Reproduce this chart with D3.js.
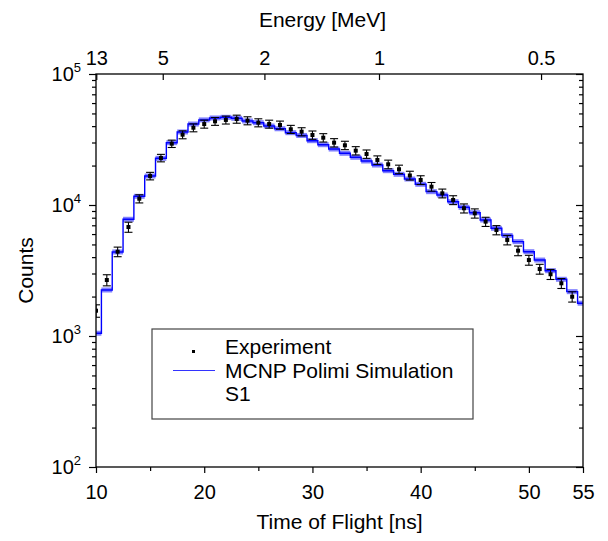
<!DOCTYPE html>
<html>
<head>
<meta charset="utf-8">
<script src="https://cdn.jsdelivr.net/npm/d3@7"></script>
<style>
    body { margin: 0; background: #fff; }
    svg text { font-family: "Liberation Sans", Arial, sans-serif; fill: #000; }
</style>
</head>
<body>
<div id="chart"></div>
<script>
// Time-of-flight bins (ns), simulation histogram
const tofBins = [10, 11, 12, 13, 14, 15, 16, 17, 18, 19, 20, 21, 22, 23, 24, 25, 26, 27, 28, 29,
    30, 31, 32, 33, 34, 35, 36, 37, 38, 39, 40, 41, 42, 43, 44, 45, 46, 47, 48, 49, 50, 51, 52, 53, 54, 55];
const simCounts = [1050, 2245, 4380, 7780, 11650, 16650, 22720, 29900, 36100, 41500,
    44600, 46150, 46700, 45900, 43800, 42500, 40100, 38200, 35650, 33950,
    30970, 28860, 26750, 24820, 23130, 21680, 20190, 18280, 17150, 15790,
    14390, 12640, 11920, 10600, 9600, 8730, 7680, 6640, 5850, 5250,
    4400, 3800, 3150, 2710, 2180, 1780];

// Experiment points
const expTof = [10, 11, 12, 13, 14, 15, 16, 17, 18, 19, 20, 21, 22, 23, 24, 25, 26, 27, 28, 29,
    30, 31, 32, 33, 34, 35, 36, 37, 38, 39, 40, 41, 42, 43, 44, 45, 46, 47, 48, 49, 50, 51, 52, 53, 54];
const expCounts = [1560, 2675, 4400, 6790, 11170, 16650, 22850, 29380, 34420, 38900,
    41500, 43550, 44600, 45300, 44040, 42500, 41500, 40800, 37840, 36290,
    34220, 32640, 29900, 28560, 25990, 24500, 22060, 20450, 18740, 16800,
    15520, 13800, 12280, 10920, 9440, 8640, 7460, 6440, 5410, 4480,
    3800, 3245, 2960, 2525, 1995];
const expErrors = [170, 260, 370, 600, 800, 1100, 1500, 1900, 2400, 2700,
    2900, 3000, 3100, 3200, 3100, 3000, 2900, 2900, 2700, 2600,
    2500, 2400, 2200, 2100, 1900, 1800, 1650, 1550, 1400, 1300,
    1200, 1050, 950, 850, 750, 700, 600, 520, 450, 380,
    330, 280, 260, 220, 180];

// Axis ticks
const tofTicks = [10, 20, 30, 40, 50, 55];
const tofMinorTicks = [15, 25, 35, 45];
const energyTicks = [13, 5, 2, 1, 0.5];
const countDecades = [1e2, 1e3, 1e4, 1e5];
const legendLabels = ["Experiment", "MCNP Polimi Simulation", "S1"];

const SIM_REL_ERR = 0.045;   // half-height of the simulation band
const TOF_1MEV = 36.15;      // flight time of a 1 MeV neutron over the path (ns)

class TofChart {
    constructor(parentElement) {
        this.parentElement = parentElement;
        this.initVis();
    }

    initVis() {
        const vis = this;

        vis.MARGIN = { LEFT: 96, RIGHT: 25, TOP: 74, BOTTOM: 74 };
        vis.WIDTH = 608 - vis.MARGIN.LEFT - vis.MARGIN.RIGHT;
        vis.HEIGHT = 541 - vis.MARGIN.TOP - vis.MARGIN.BOTTOM;
        vis.TICK_FONT = 20;
        vis.TITLE_FONT = 21;

        vis.svgRoot = d3.select(vis.parentElement).append("svg")
            .attr("width", 608)
            .attr("height", 541);

        vis.svg = vis.svgRoot.append("g")
            .attr("transform", `translate(${vis.MARGIN.LEFT}, ${vis.MARGIN.TOP})`);

        vis.svg.append("clipPath")
            .attr("id", "plot-clip")
            .append("rect")
            .attr("width", vis.WIDTH)
            .attr("height", vis.HEIGHT);

        vis.xScale = d3.scaleLinear().domain([10, 55]).range([0, vis.WIDTH]);
        vis.yScale = d3.scaleLog().domain([1e2, 1e5]).range([vis.HEIGHT, 0]);

        vis.addSimulation();
        vis.addExperiment();
        vis.addAxes();
        vis.addLegend();
    }

    addSimulation() {
        const vis = this;
        const g = vis.svg.append("g").attr("clip-path", "url(#plot-clip)");

        const bins = tofBins.map((t, i) => ({
            lo: Math.max(10, t - 0.5),
            hi: Math.min(55, t + 0.5),
            v: simCounts[i]
        }));

        // uncertainty band on each bin
        g.selectAll("rect.band")
            .data(bins)
            .join("rect")
            .attr("class", "band")
            .attr("x", d => vis.xScale(d.lo))
            .attr("width", d => vis.xScale(d.hi) - vis.xScale(d.lo))
            .attr("y", d => vis.yScale(d.v * (1 + SIM_REL_ERR)))
            .attr("height", d => vis.yScale(d.v / (1 + SIM_REL_ERR)) - vis.yScale(d.v * (1 + SIM_REL_ERR)))
            .attr("fill", "#4a4aff")
            .attr("opacity", 0.7);

        const stepPoints = bins.flatMap(d => [[d.lo, d.v], [d.hi, d.v]]);
        const line = d3.line()
            .x(d => vis.xScale(d[0]))
            .y(d => vis.yScale(d[1]));

        g.append("path")
            .datum(stepPoints)
            .attr("d", line)
            .attr("fill", "none")
            .attr("stroke", "#0000ff")
            .attr("stroke-width", 1.4);
    }

    addExperiment() {
        const vis = this;
        const g = vis.svg.append("g").attr("clip-path", "url(#plot-clip)");
        const pts = expTof.map((t, i) => ({ t, v: expCounts[i], e: expErrors[i] }));
        const cap = 4;

        const pt = g.selectAll("g.exp")
            .data(pts)
            .join("g")
            .attr("class", "exp");

        pt.append("line")
            .attr("x1", d => vis.xScale(d.t))
            .attr("x2", d => vis.xScale(d.t))
            .attr("y1", d => vis.yScale(d.v - d.e))
            .attr("y2", d => vis.yScale(d.v + d.e));

        pt.append("line")
            .attr("x1", d => vis.xScale(d.t) - cap)
            .attr("x2", d => vis.xScale(d.t) + cap)
            .attr("y1", d => vis.yScale(d.v + d.e))
            .attr("y2", d => vis.yScale(d.v + d.e));

        pt.append("line")
            .attr("x1", d => vis.xScale(d.t) - cap)
            .attr("x2", d => vis.xScale(d.t) + cap)
            .attr("y1", d => vis.yScale(d.v - d.e))
            .attr("y2", d => vis.yScale(d.v - d.e));

        pt.selectAll("line")
            .attr("stroke", "#000")
            .attr("stroke-width", 1.1);

        pt.append("rect")
            .attr("x", d => vis.xScale(d.t) - 2)
            .attr("y", d => vis.yScale(d.v) - 2)
            .attr("width", 4)
            .attr("height", 4)
            .attr("fill", "#000");
    }

    addAxes() {
        const vis = this;
        const minorCounts = [];
        countDecades.slice(0, -1).forEach(dec => {
            for (let k = 2; k <= 9; k++) minorCounts.push(dec * k);
        });

        const styleAxis = sel => {
            sel.select(".domain").remove();
            sel.selectAll(".tick line").attr("stroke", "#000").attr("stroke-width", 1.2);
            sel.attr("font-family", null).attr("font-size", vis.TICK_FONT);
        };

        // bottom (time of flight)
        vis.svg.append("g")
            .attr("transform", `translate(0,${vis.HEIGHT})`)
            .call(d3.axisBottom(vis.xScale).tickValues(tofTicks).tickSize(6).tickSizeOuter(0).tickPadding(12))
            .call(styleAxis);
        vis.svg.append("g")
            .attr("transform", `translate(0,${vis.HEIGHT})`)
            .call(d3.axisBottom(vis.xScale).tickValues(tofMinorTicks).tickSize(4).tickSizeOuter(0).tickFormat(""))
            .call(styleAxis);

        // top (energy), ticks pointing inward
        const energyToTof = e => TOF_1MEV / Math.sqrt(e);
        vis.svg.append("g")
            .call(d3.axisTop(vis.xScale)
                .tickValues(energyTicks.map(energyToTof))
                .tickSize(-6).tickSizeOuter(0).tickPadding(9)
                .tickFormat((d, i) => energyTicks[i]))
            .call(styleAxis);

        // left (counts)
        vis.svg.append("g")
            .call(d3.axisLeft(vis.yScale).tickValues(countDecades).tickSize(7).tickSizeOuter(0).tickFormat(""))
            .call(styleAxis);
        vis.svg.append("g")
            .call(d3.axisLeft(vis.yScale).tickValues(minorCounts).tickSize(4).tickSizeOuter(0).tickFormat(""))
            .call(styleAxis);

        // right, ticks pointing inward
        vis.svg.append("g")
            .attr("transform", `translate(${vis.WIDTH},0)`)
            .call(d3.axisLeft(vis.yScale).tickValues(countDecades).tickSize(7).tickSizeOuter(0).tickFormat(""))
            .call(styleAxis);
        vis.svg.append("g")
            .attr("transform", `translate(${vis.WIDTH},0)`)
            .call(d3.axisLeft(vis.yScale).tickValues(minorCounts).tickSize(4).tickSizeOuter(0).tickFormat(""))
            .call(styleAxis);

        // power-of-ten labels
        const labels = vis.svg.append("g").selectAll("text.ylab")
            .data(countDecades)
            .join("text")
            .attr("class", "ylab")
            .attr("x", -15)
            .attr("y", d => vis.yScale(d) + 7)
            .attr("text-anchor", "end")
            .attr("font-size", vis.TICK_FONT);
        labels.append("tspan").text("10");
        labels.append("tspan")
            .attr("dy", -9)
            .attr("font-size", 13)
            .text(d => Math.round(Math.log10(d)));

        // frame
        vis.svg.append("rect")
            .attr("width", vis.WIDTH)
            .attr("height", vis.HEIGHT)
            .attr("fill", "none")
            .attr("stroke", "#000")
            .attr("stroke-width", 1.3);

        // axis titles
        vis.svg.append("text")
            .attr("x", vis.WIDTH / 2)
            .attr("y", vis.HEIGHT + 62)
            .attr("text-anchor", "middle")
            .attr("font-size", vis.TITLE_FONT)
            .text("Time of Flight [ns]");

        vis.svg.append("text")
            .attr("x", vis.WIDTH / 2 - 17)
            .attr("y", -47)
            .attr("text-anchor", "middle")
            .attr("font-size", vis.TITLE_FONT)
            .text("Energy [MeV]");

        vis.svg.append("text")
            .attr("transform", "rotate(-90)")
            .attr("x", -vis.HEIGHT / 2)
            .attr("y", -63)
            .attr("text-anchor", "middle")
            .attr("font-size", vis.TITLE_FONT)
            .text("Counts");
    }

    addLegend() {
        const vis = this;
        const legend = vis.svgRoot.append("g")
            .attr("class", "legend-group")
            .attr("transform", "translate(152, 329)");

        legend.append("rect")
            .attr("width", 321)
            .attr("height", 90)
            .attr("fill", "#fff")
            .attr("stroke", "#444")
            .attr("stroke-width", 1.2);

        legend.selectAll("text")
            .data(legendLabels)
            .join("text")
            .attr("x", 73)
            .attr("y", (d, i) => 25 + i * 23.5)
            .attr("font-size", vis.TITLE_FONT)
            .text(d => d);

        legend.append("rect")
            .attr("x", 40)
            .attr("y", 21)
            .attr("width", 3)
            .attr("height", 3)
            .attr("fill", "#000");

        legend.append("line")
            .attr("x1", 21)
            .attr("x2", 63)
            .attr("y1", 41.5)
            .attr("y2", 41.5)
            .attr("stroke", "#3333ff")
            .attr("stroke-width", 1.2);
    }
}

new TofChart("#chart");
</script>
</body>
</html>
